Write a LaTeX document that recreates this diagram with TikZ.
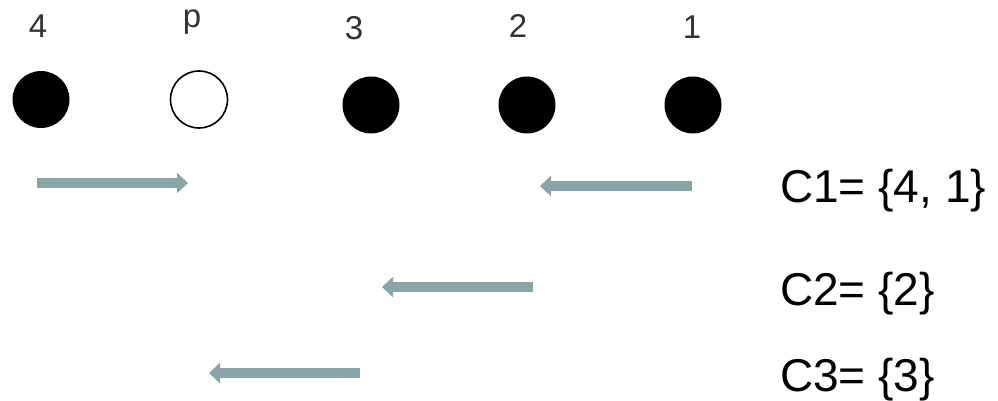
\documentclass[tikz,border=0pt]{standalone}
\usepackage{fontspec}
\setmainfont{Liberation Sans}
\usetikzlibrary{arrows.meta}
\definecolor{arrowgrey}{RGB}{138,165,167}
\tikzset{
  pt/.style={circle, inner sep=0pt, minimum size=57pt},
  fullpt/.style={pt, fill=black},
  emptypt/.style={pt, draw=black, line width=1.6pt, fill=white},
  lbl/.style={anchor=base, inner sep=0pt, text=black!80, font=\fontsize{33}{36}\selectfont},
  setlbl/.style={anchor=base west, inner sep=0pt, font=\fontsize{46}{50}\selectfont},
  move/.style={draw=arrowgrey, line width=10pt,
    -{Triangle[width=20pt,length=11pt]}}
}
\begin{document}
\begin{tikzpicture}[x=1pt,y=-1pt]
  \useasboundingbox (0,0) rectangle (998,401);

  % the five points
  \node[fullpt]  (n4) at (41,99.5) {};
  \node[emptypt] (np) at (199,99.5) {};
  \node[fullpt]  (n3) at (371,105) {};
  \node[fullpt]  (n2) at (527,105) {};
  \node[fullpt]  (n1) at (693,105) {};

  % their labels
  \node[lbl] (l4) at (38,38) {4};
  \node[lbl] (lp) at (192,28) {p};
  \node[lbl] (l3) at (354,40) {3};
  \node[lbl] (l2) at (518,38) {2};
  \node[lbl] (l1) at (692,39) {1};

  % arrow end points
  \coordinate (a1s) at (37,183);
  \coordinate (a1e) at (188,183);
  \coordinate (a2s) at (692,186);
  \coordinate (a2e) at (540,186);
  \coordinate (a3s) at (533,287);
  \coordinate (a3e) at (382,287);
  \coordinate (a4s) at (360,373);
  \coordinate (a4e) at (209,373);

  \draw[move] (a1s) -- (a1e);
  \draw[move] (a2s) -- (a2e);
  \draw[move] (a3s) -- (a3e);
  \draw[move] (a4s) -- (a4e);

  % cluster sets
  \node[setlbl] (c1) at (780,202) {C1= \{4, 1\}};
  \node[setlbl] (c2) at (780,305) {C2= \{2\}};
  \node[setlbl] (c3) at (780,391) {C3= \{3\}};
\end{tikzpicture}
\end{document}
